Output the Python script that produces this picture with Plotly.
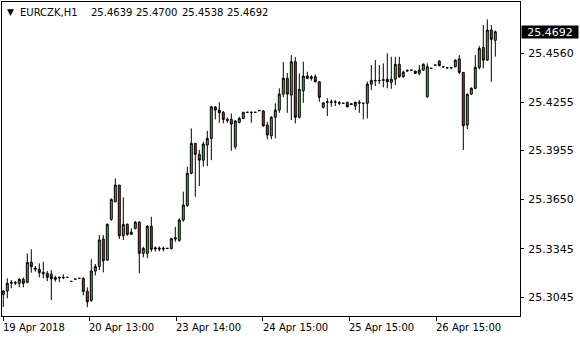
import plotly.graph_objects as go

symbol = "EURCZK,H1"
last_ohlc = ["25.4639", "25.4700", "25.4538", "25.4692"]

opens = [25.3061, 25.3082, 25.3130, 25.3136, 25.3130, 25.3155, 25.3136, 25.3260, 25.3217, 25.3217,
         25.3198, 25.3192, 25.3186, 25.3165, 25.3163, 25.3167, 25.3167, 25.3142, 25.3156, 25.3161,
         25.3161, 25.3080, 25.3024, 25.3206, 25.3235, 25.3405, 25.3274, 25.3527, 25.3636, 25.3740,
         25.3425, 25.3496, 25.3434, 25.3471, 25.3509, 25.3316, 25.3316, 25.3484, 25.3343, 25.3349,
         25.3343, 25.3347, 25.3345, 25.3405, 25.3397, 25.3523, 25.3613, 25.3813, 25.3999, 25.3931,
         25.3895, 25.3989, 25.4030, 25.4225, 25.4206, 25.4192, 25.4148, 25.4148, 25.3978, 25.4130,
         25.4154, 25.4192, 25.4192, 25.4192, 25.4204, 25.4200, 25.4113, 25.4046, 25.4161, 25.4206,
         25.4305, 25.4403, 25.4299, 25.4506, 25.4161, 25.4326, 25.4417, 25.4413, 25.4413, 25.4382,
         25.4223, 25.4254, 25.4257, 25.4254, 25.4248, 25.4248, 25.4254, 25.4245, 25.4231, 25.4254,
         25.4248, 25.4248, 25.4367, 25.4390, 25.4388, 25.4390, 25.4397, 25.4378, 25.4398, 25.4490,
         25.4413, 25.4448, 25.4454, 25.4448, 25.4434, 25.4454, 25.4288, 25.4465, 25.4485, 25.4510,
         25.4475, 25.4469, 25.4469, 25.4475, 25.4524, 25.4440, 25.4113, 25.4305, 25.4341, 25.4471,
         25.4595, 25.4516, 25.4703, 25.4639]
highs = [25.3088, 25.3161, 25.3150, 25.3144, 25.3161, 25.3167, 25.3316, 25.3341, 25.3237, 25.3254,
         25.3264, 25.3206, 25.3212, 25.3177, 25.3171, 25.3186, 25.3167, 25.3142, 25.3156, 25.3161,
         25.3167, 25.3105, 25.3279, 25.3250, 25.3430, 25.3430, 25.3502, 25.3658, 25.3782, 25.3740,
         25.3664, 25.3502, 25.3471, 25.3517, 25.3517, 25.3357, 25.3492, 25.3543, 25.3359, 25.3359,
         25.3359, 25.3347, 25.3413, 25.3481, 25.3533, 25.3699, 25.3854, 25.4092, 25.4001, 25.3958,
         25.4009, 25.4077, 25.4233, 25.4231, 25.4254, 25.4200, 25.4161, 25.4185, 25.4144, 25.4164,
         25.4195, 25.4192, 25.4192, 25.4192, 25.4206, 25.4206, 25.4133, 25.4169, 25.4248, 25.4341,
         25.4504, 25.4436, 25.4547, 25.4535, 25.4434, 25.4506, 25.4444, 25.4423, 25.4428, 25.4386,
         25.4251, 25.4279, 25.4272, 25.4268, 25.4262, 25.4248, 25.4257, 25.4249, 25.4257, 25.4268,
         25.4251, 25.4382, 25.4485, 25.4516, 25.4485, 25.4496, 25.4558, 25.4537, 25.4537, 25.4537,
         25.4450, 25.4459, 25.4454, 25.4450, 25.4485, 25.4496, 25.4496, 25.4465, 25.4485, 25.4515,
         25.4475, 25.4469, 25.4469, 25.4521, 25.4547, 25.4440, 25.4310, 25.4347, 25.4547, 25.4603,
         25.4734, 25.4769, 25.4734, 25.4700]
lows = [25.2983, 25.3037, 25.3099, 25.3119, 25.3105, 25.3105, 25.3130, 25.3196, 25.3202, 25.3167,
        25.3161, 25.3144, 25.3026, 25.3140, 25.3136, 25.3156, 25.3167, 25.3142, 25.3156, 25.3161,
        25.3055, 25.2981, 25.3015, 25.3179, 25.3212, 25.3198, 25.3270, 25.3518, 25.3633, 25.3405,
        25.3399, 25.3425, 25.3430, 25.3465, 25.3192, 25.3291, 25.3285, 25.3326, 25.3328, 25.3328,
        25.3328, 25.3347, 25.3341, 25.3388, 25.3388, 25.3512, 25.3605, 25.3807, 25.3668, 25.3734,
        25.3854, 25.3858, 25.3895, 25.4148, 25.4127, 25.4123, 25.4127, 25.3953, 25.3962, 25.4123,
        25.4150, 25.4192, 25.4127, 25.4192, 25.4200, 25.4102, 25.4024, 25.4024, 25.4030, 25.4189,
        25.4285, 25.4189, 25.4144, 25.4123, 25.4154, 25.4251, 25.4397, 25.4388, 25.4378, 25.4257,
        25.4216, 25.4169, 25.4226, 25.4231, 25.4237, 25.4248, 25.4223, 25.4237, 25.4206, 25.4189,
        25.4148, 25.4154, 25.4330, 25.4355, 25.4367, 25.4347, 25.4341, 25.4338, 25.4361, 25.4406,
        25.4406, 25.4442, 25.4454, 25.4429, 25.4421, 25.4448, 25.4285, 25.4465, 25.4485, 25.4479,
        25.4467, 25.4461, 25.4459, 25.4471, 25.4429, 25.3958, 25.4088, 25.4299, 25.4334, 25.4459,
        25.4465, 25.4512, 25.4382, 25.4538]
closes = [25.3082, 25.3130, 25.3136, 25.3132, 25.3155, 25.3130, 25.3260, 25.3233, 25.3223, 25.3196,
          25.3189, 25.3167, 25.3158, 25.3155, 25.3167, 25.3165, 25.3167, 25.3142, 25.3156, 25.3161,
          25.3080, 25.3015, 25.3206, 25.3235, 25.3399, 25.3270, 25.3496, 25.3651, 25.3740, 25.3425,
          25.3496, 25.3434, 25.3448, 25.3509, 25.3316, 25.3347, 25.3484, 25.3341, 25.3349, 25.3343,
          25.3347, 25.3347, 25.3407, 25.3413, 25.3523, 25.3616, 25.3813, 25.3999, 25.3931, 25.3895,
          25.3995, 25.4030, 25.4226, 25.4206, 25.4189, 25.4148, 25.4142, 25.4119, 25.4138, 25.4154,
          25.4192, 25.4192, 25.4192, 25.4192, 25.4202, 25.4108, 25.4051, 25.4161, 25.4206, 25.4305,
          25.4403, 25.4305, 25.4506, 25.4161, 25.4334, 25.4417, 25.4403, 25.4403, 25.4382, 25.4285,
          25.4251, 25.4257, 25.4254, 25.4257, 25.4251, 25.4248, 25.4226, 25.4241, 25.4254, 25.4249,
          25.4248, 25.4367, 25.4390, 25.4388, 25.4390, 25.4394, 25.4382, 25.4398, 25.4490, 25.4413,
          25.4442, 25.4452, 25.4454, 25.4434, 25.4454, 25.4490, 25.4475, 25.4465, 25.4485, 25.4481,
          25.4475, 25.4469, 25.4469, 25.4516, 25.4440, 25.4108, 25.4303, 25.4341, 25.4471, 25.4589,
          25.4516, 25.4703, 25.4645, 25.4692]

bars = list(range(len(opens)))

x_tick_pos = [0, 21.5, 43.2, 64.85, 86.5, 108.2]
x_tick_text = ["19 Apr 2018", "20 Apr 13:00", "23 Apr 14:00", "24 Apr 15:00", "25 Apr 15:00", "26 Apr 15:00"]
y_tick_vals = [25.3045, 25.3345, 25.3650, 25.3955, 25.4255, 25.4560]
last_price = 25.4692

FONT = "DejaVu Sans"

fig = go.Figure()
fig.add_trace(go.Candlestick(
    x=bars, open=opens, high=highs, low=lows, close=closes,
    increasing=dict(fillcolor="#3cbc3c", line=dict(color="black", width=1)),
    decreasing=dict(fillcolor="#e61e1e", line=dict(color="black", width=1)),
    whiskerwidth=0, showlegend=False, hoverinfo="skip",
))

annotations = []
for pos, txt in zip(x_tick_pos, x_tick_text):
    annotations.append(dict(x=pos, xref="x", y=0, yref="paper", text=txt, showarrow=False,
                            xanchor="left", yanchor="top", yshift=-4, xshift=-2,
                            font=dict(family=FONT, size=10, color="black")))

# header
annotations.append(dict(x=0, xref="paper", y=1, yref="paper", text="▼", showarrow=False,
                        xanchor="left", yanchor="middle", xshift=3, yshift=-10,
                        font=dict(family=FONT, size=9, color="black")))
annotations.append(dict(x=0, xref="paper", y=1, yref="paper", text=symbol, showarrow=False,
                        xanchor="left", yanchor="middle", xshift=16, yshift=-10,
                        font=dict(family=FONT, size=10, color="black")))
for k, v in enumerate(last_ohlc):
    annotations.append(dict(x=0, xref="paper", y=1, yref="paper", text=v, showarrow=False,
                            xanchor="left", yanchor="middle", xshift=87 + 45.3 * k, yshift=-10,
                            font=dict(family=FONT, size=10, color="black")))

# current price label
annotations.append(dict(x=1, xref="paper", y=last_price, yref="y", text=f"{last_price:.4f}",
                        showarrow=False, xanchor="left", yanchor="middle", xshift=1,
                        bgcolor="black", width=56, height=12, borderpad=0,
                        font=dict(family=FONT, size=11, color="white")))

fig.update_layout(
    width=580, height=340,
    margin=dict(l=2, r=60, t=2, b=24),
    paper_bgcolor="white", plot_bgcolor="white",
    showlegend=False,
    annotations=annotations,
    xaxis=dict(range=[-0.325, 129.175], rangeslider=dict(visible=False),
               showgrid=False, zeroline=False, showline=True, linecolor="black", linewidth=1,
               mirror=True, ticks="outside", ticklen=4, tickcolor="black", tickwidth=1,
               tickvals=x_tick_pos, showticklabels=False),
    yaxis=dict(range=[25.2927, 25.4877], side="right", showgrid=False, zeroline=False,
               showline=True, linecolor="black", linewidth=1, mirror=True,
               ticks="outside", ticklen=3, tickcolor="black", tickwidth=1,
               tickvals=y_tick_vals, tickformat=".4f", ticklabelstandoff=2,
               tickfont=dict(family=FONT, size=11, color="black")),
)

fig.write_html("out.html")
